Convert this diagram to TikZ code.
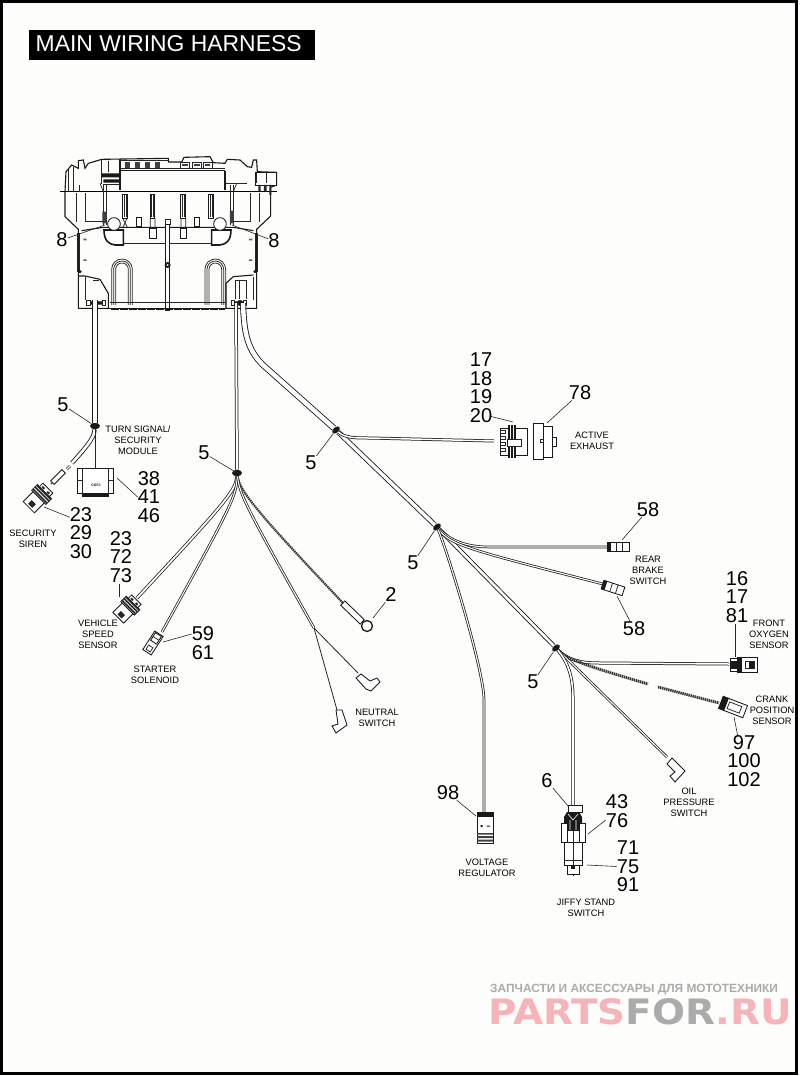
\documentclass[tikz,border=0pt]{standalone}
\usepackage{fontspec}
\usetikzlibrary{shapes.geometric}
\setmainfont{Liberation Sans}
\newfontfamily\stampfont{DejaVu Sans}
\definecolor{paper}{HTML}{FDFDFB}
\definecolor{stampred}{HTML}{F6B4B8}
\definecolor{stampgrey}{HTML}{ABABAB}
\tikzset{
  num/.style={font=\fontsize{20}{18.5}\selectfont,align=center,inner sep=0pt},
  tagtext/.style={font=\fontsize{9.3}{11}\selectfont,align=center,inner sep=0pt},
  leader/.style={line width=.6pt,black!85},
  wire/.style={line width=.75pt,black!90,double=white,double distance=1.1pt},
  thinwire/.style={line width=.9pt,black!85},
  sheath/.style={line width=.85pt,black!90,double=white,double distance=4.4pt},
  twist/.style={line width=2.8pt,black!80,dash pattern=on 1.4pt off .7pt},
  clampnode/.style={ellipse,fill=black!90,inner sep=0pt,minimum width=10pt,minimum height=6.5pt},
  part/.style={line width=.85pt,black!90,fill=white},
  body/.style={line width=1.1pt,black!90},
  fine/.style={line width=.75pt,black!85},
  plug/.pic={
    \draw[part] (-13,-8) rectangle (1,8);
    \draw[part] (1,-10) rectangle (9,10);
    \fill[black!85] (2,-10) rectangle (3.6,10) (4.8,-10) rectangle (6.4,10) (7.4,-10) rectangle (9,10);
    \draw[part] (9,-7) rectangle (14,7);
    \fill[black!85] (-11,-3) rectangle (-6,3);
    \fill[black!85] (10,-5) rectangle (12,-2) (10,2) rectangle (12,5);
  }
}
\begin{document}
\begin{tikzpicture}[x=1pt,y=-1pt]
\useasboundingbox (0,0) rectangle (800,1076);
\fill[paper] (0,0) rectangle (800,1076);
\draw[line width=3pt] (1.5,1.5) rectangle (796.5,1073.5);

\node[fill=black,anchor=west,minimum width=286pt,minimum height=30pt,inner sep=0pt] (title) at (29,45) {};
\node[text=white,font=\fontsize{22.9}{24}\selectfont,anchor=west,inner sep=0pt] (titletext) at (35.5,43.5) {MAIN WIRING HARNESS};

\begin{scope}[shift={(40,140)},x=.3333pt,y=-.3333pt]
  \draw[body] (75,155) -- (78,95) -- (95,75) -- (115,85) -- (115,62) -- (130,60) -- (135,85) -- (145,70) -- (185,58)
    -- (385,55) -- (385,66) -- (425,66) -- (432,52) -- (510,50) -- (520,68) -- (555,70) -- (562,58) -- (600,60)
    -- (622,80) -- (635,82) -- (640,60) -- (650,60) -- (652,95) -- (710,97) -- (710,135) -- (692,142)
    -- (692,228) -- (650,268) -- (650,505) -- (558,505) -- (558,430) -- (580,410) -- (640,405);
  \draw[body] (75,155) -- (75,230) -- (115,268) -- (115,505) -- (205,505) -- (205,460) -- (180,418) -- (135,408) -- (115,408);
  \draw[body] (205,505) -- (558,505);
  \draw[line width=1.3pt] (60,155) -- (710,155);
  \draw[body] (240,92) -- (555,92) (240,56) -- (240,150) (555,92) -- (555,150);
  \draw[fine] (240,62) -- (385,62) (240,86) -- (555,86) (190,132) -- (240,132) (555,130) -- (620,130);
  \foreach \xa in {255,285,315,345} \fill[black!75] (\xa,66) rectangle +(16,18);
  \foreach \xa in {422,458,490} {\draw[fine] (\xa,68) rectangle +(26,16); \fill[black!75] (\xa+5,72) rectangle +(16,5);}
  \fill[black!90] (185,100) rectangle (238,112) (190,118) rectangle (238,128);
  \draw[fine] (185,60) -- (185,132) (205,62) -- (205,95);
  \draw[part] (645,97) rectangle (708,135);
  \fill[black!85] (655,135) rectangle (662,155) (672,135) rectangle (680,155) (688,135) rectangle (694,165);
  \draw[fine] (650,100) -- (650,130) (680,97) -- (680,130);
  \foreach \xa in {190,200,570,580} \draw[fine] (\xa,135) -- (\xa,255);
  \fill[black!75] (187,215) rectangle (200,250) (570,212) rectangle (582,250);
  \draw[fine] (180,130) -- (190,155) (590,130) -- (580,155);
  \draw[fine] (110,160) -- (110,245) (135,160) -- (135,245) (118,135) -- (118,155) (85,85) -- (85,155) (100,80) -- (100,155);
  \draw[fine] (630,160) -- (630,245) (658,160) -- (658,245);
  \draw[fine] (135,245) -- (190,245) (630,245) -- (580,245);
  \draw[body] (125,272) -- (190,262) -- (580,262) -- (640,272);
  \draw[fine] (250,310) -- (520,310);
  \foreach \xa in {255,338,430,513} {
    \draw[part,line width=1pt] (\xa-7,163) rectangle (\xa+7,235);
    \draw[fine] (\xa-3,166) -- (\xa-3,232) (\xa+3,166) -- (\xa+3,232);
  }
  \draw[fine] (248,235) -- (262,262) (261,235) -- (249,262) (331,235) -- (331,262) (345,235) -- (345,262)
    (423,235) -- (423,262) (437,235) -- (437,262);
  \draw[part,line width=1.2pt] (329,265) rectangle (349,295);
  \draw[part,line width=1.2pt] (421,265) rectangle (440,295);
  \draw[part] (290,232) rectangle (305,260);
  \draw[part] (462,232) rectangle (478,260);
  \draw[line width=1.6pt,black!90,fill=white] (192,270) -- (250,270) -- (250,315) -- (225,315) .. controls (205,313) and (192,300) .. cycle;
  \draw[line width=1.6pt,black!90,fill=white] (573,270) -- (515,270) -- (515,315) -- (540,315) .. controls (560,313) and (573,300) .. cycle;
  \draw[part] (222,252) circle (19);
  \draw[part] (540,252) circle (19);
  \draw[fine,fill=white] (375,238) rectangle (390,252);
  \draw[part] (377,252) rectangle (388,510);
  \fill[black!90] (383,375) circle (9);
  \fill[white] (383,375) circle (3);
  \foreach \xa in {215,495} {
    \draw[fine] (\xa,495) -- (\xa,388) arc (180:360:31) -- (\xa+62,495);
    \draw[fine] (\xa+6,495) -- (\xa+6,388) arc (180:360:25) -- (\xa+56,495);
    \draw[fine] (\xa+12,495) -- (\xa+12,388) arc (180:360:19) -- (\xa+50,495);
  }
  \draw[fine] (210,488) -- (555,488);
  \draw[line width=1.8pt,black!90,dash pattern=on 8pt off 1pt] (212,506) -- (555,506);
  \draw[fine] (118,280) -- (118,395) (112,280) -- (112,395) (652,280) -- (652,395) (645,280) -- (645,395);
  \fill[black!90] (120,395) circle (5) (645,395) circle (5);
  \foreach \xa in {135,632} {\fill[black!60] (\xa-5,296) rectangle +(10,5) (\xa-5,358) rectangle +(10,5);}
  \draw[fine] (135,412) -- (135,480) (640,410) -- (640,480);
  \draw[fine] (158,420) -- (176,420);
  \draw[fine] (585,420) -- (620,420) (585,420) -- (585,478) (620,420) -- (620,478) (597,420) -- (597,478);
  \draw[fine] (140,480) rectangle (150,497) (186,480) rectangle (196,497) (575,480) rectangle (584,497) (611,480) rectangle (620,497);
  \fill[black!90] (152,484) rectangle (186,494) (584,484) rectangle (611,494);
  \fill[black!90] (167,489) circle (9) (600,489) circle (9);
\end{scope}

\node[clampnode] (clipA) at (95,426) {};
\node[clampnode] (clipB) at (237,473) {};
\node[clampnode,rotate=40,minimum width=9pt,minimum height=5.5pt] (clipC) at (336,430) {};
\node[clampnode,rotate=40,minimum width=9pt,minimum height=5.5pt] (clipD) at (437,527) {};
\node[clampnode,rotate=40,minimum width=9pt,minimum height=5.5pt] (clipE) at (556,648) {};
\coordinate (topL) at (95,300);
\coordinate (topW) at (236,303);
\coordinate (topS) at (243,303);

\coordinate (sirenEnd) at (51,484);
\coordinate (moduleEnd) at (95,468);
\coordinate (speedEnd) at (137,598);
\coordinate (starterEnd) at (162,632);
\coordinate (ringEnd) at (343,603);
\coordinate (fork) at (314,628);
\coordinate (neutralA) at (358,673);
\coordinate (neutralB) at (337,710);
\coordinate (exhaustEnd) at (494,441);
\coordinate (brakeA) at (607,547);
\coordinate (brakeB) at (603,584);
\coordinate (regEnd) at (484,812);
\coordinate (oxyEnd) at (729,664);
\coordinate (crankA) at (648,684);
\coordinate (crankB) at (658,687);
\coordinate (crankEnd) at (719,703);
\coordinate (oilEnd) at (667,757);
\coordinate (jiffyEnd) at (573,805);

\draw[wire,double distance=4.4pt] (topL) -- (clipA);
\draw[sheath,double distance=2.6pt] (clipA) .. controls (94,436) and (92,441) .. (72,463);
\draw[wire] (70,466) -- (67,469);
\draw[line width=.8pt,black!90,fill=white,rotate around={45:(58,477)}] (50,474.5) rectangle (66,479.5);
\draw[thinwire] (53,482) -- (sirenEnd);
\draw[thinwire] (clipA) -- (moduleEnd);

\draw[wire,double distance=2pt] (topW) -- (clipB);
\draw[sheath] (topS) .. controls (244,335) and (248,350) .. (263,365) -- (clipC);
\draw[sheath,double distance=3.4pt] (clipC) -- (clipD);
\draw[sheath,double distance=2.6pt] (clipD) -- (clipE);

\draw[wire,double distance=1.8pt] (clipB) .. controls (236,490) and (228,500) .. (speedEnd);
\draw[wire] (clipB) .. controls (237,495) and (232,505) .. (starterEnd);
\draw[twist,line width=2.2pt] (clipB) .. controls (240,490) and (250,505) .. (ringEnd);
\draw[wire] (clipB) .. controls (240,495) and (245,505) .. (fork);
\draw[leader,line width=.8pt] (fork) -- (neutralA);
\draw[leader,line width=.8pt] (fork) -- (neutralB);

\draw[wire,double distance=1.5pt] (clipC) .. controls (345,438) and (355,438) .. (370,438) -- (exhaustEnd);
\draw[wire] (clipD) .. controls (450,540) and (465,547) .. (490,547) -- (brakeA);
\draw[wire] (clipD) .. controls (450,545) and (470,550) .. (brakeB);
\draw[wire] (clipD) .. controls (447,550) and (484,670) .. (484,700) -- (regEnd);
\draw[wire,double distance=1.5pt] (clipE) .. controls (568,660) and (580,663) .. (600,663) -- (oxyEnd);
\draw[twist] (clipE) .. controls (565,658) and (580,664) .. (crankA);
\draw[twist] (crankB) -- (crankEnd);
\draw[wire] (clipE) -- (oilEnd);
\draw[wire,double distance=1.6pt] (clipE) .. controls (570,665) and (573,680) .. (573,700) -- (jiffyEnd);

\draw[part] (77,468) rectangle (113,493);
\draw[fine] (82,468) -- (82,493) (108,468) -- (108,493) (77,480) -- (82,480) (108,480) -- (113,480);
\fill[black!90] (82,493) rectangle (109,497);
\node[font=\bfseries\fontsize{3.5}{4}\selectfont,inner sep=0pt] (modtag) at (96,485) {CGFJ};
\pic[rotate=45] at (38,498) {plug};
\pic[rotate=45,scale=.95] at (127,609) {plug};

\begin{scope}[shift={(153,643)},rotate=57]
  \draw[part] (-11,-5) rectangle (11,5);
  \draw[part] (1,-3.5) rectangle (10,3.5);
  \draw[fine] (5.5,-3.5) -- (5.5,3.5);
  \draw[fine] (-9,-2.5) rectangle (-4,2.5);
\end{scope}

\draw[part,rotate around={-44:(352.5,612.5)}] (339,609.5) rectangle (366,615.5);
\draw[line width=1.3pt,black!90,fill=white] (367,626) circle (5.5pt);
\begin{scope}[shift={(368,682)}]
  \draw[part] (-12,-4) -- (-7,-8) -- (2,-1) -- (9,-4) -- (12,0) -- (3,9) -- (-2,7) -- cycle;
\end{scope}
\begin{scope}[shift={(339,722)}]
  \draw[part] (-3,-12) -- (3,-12) -- (8,3) -- (-3,11) -- (-7,4) -- (-1,2) -- cycle;
\end{scope}
\begin{scope}[shift={(675,770)}]
  \draw[part] (-8,-6) -- (-3,-12) -- (10,1) -- (0,12) -- (-5,6) -- (0,2) -- cycle;
\end{scope}

\begin{scope}[shift={(500,425)}]
  \draw[part] (0,3) rectangle (27,30);
  \fill[black!90] (8,0) rectangle (16,33);
  \draw[white,line width=.5pt] (10.5,0) -- (10.5,33) (13.5,0) -- (13.5,33);
  \draw[fine,fill=white] (7,14) rectangle (21,21);
  \foreach \ya in {5,11,17,23} \draw[fine] (0,\ya) rectangle +(5,3);
\end{scope}
\draw[part] (533,423) rectangle (543,459);
\draw[part] (543,426) -- (552,426) -- (552,457) -- (543,457) -- cycle;
\draw[part] (552,437) rectangle (556,446);
\draw[fine] (540,439) rectangle (543,442);

\begin{scope}[shift={(607,542)}]
  \draw[part] (0,0) rectangle (22,9);
  \fill[black!90] (0,0) rectangle (3.5,9);
  \draw[fine] (9,0) -- (9,9) (15,0) -- (15,9);
\end{scope}
\begin{scope}[shift={(613,588)},rotate=-18]
  \draw[part] (-11,-4.5) rectangle (11,4.5);
  \fill[black!90] (-11,-4.5) rectangle (-7.5,4.5);
  \draw[fine] (-2,-4.5) -- (-2,4.5) (4,-4.5) -- (4,4.5);
\end{scope}

\begin{scope}[shift={(477,812)}]
  \draw[part] (0,0) rectangle (16,31);
  \fill[black!90] (0,0) rectangle (16,5);
  \fill[black!75] (0,24) rectangle (16,26) (0,27.5) rectangle (16,29.5) (0,21) rectangle (16,22.5);
  \fill[black!90] (3.5,13) rectangle (5.5,15) (9.5,13.5) rectangle (13,14.5);
\end{scope}

\begin{scope}[shift={(730,657.5)}]
  \draw[part] (0,1) rectangle (7,14);
  \fill[black!90] (0,3) rectangle (7,11);
  \draw[part] (7,0) rectangle (27,15);
  \fill[black!90] (7,0) rectangle (12,15);
  \draw[fine] (15,4) rectangle (24,11);
  \fill[black!90] (19,4) rectangle (24,11);
\end{scope}
\begin{scope}[shift={(733,707)},rotate=-21]
  \draw[part] (-13,-6.5) rectangle (13,6.5);
  \fill[black!90] (-13,-6.5) rectangle (-7,6.5);
  \draw[fine] (-5,-3.5) rectangle (8,3.5);
\end{scope}

\begin{scope}[shift={(573,812)}]
  \draw[part] (-5,-7) rectangle (9,0);
  \fill[black!90] (-9,5) -- (-6,0) -- (6,0) -- (9,5) -- (9,20) -- (-9,20) -- cycle;
  \draw[white,line width=.6pt] (-5,2) -- (0,8) -- (5,2) (-3,8) -- (-3,19) (3,8) -- (3,19);
  \draw[part] (-12,11) rectangle (-6,30);
  \draw[part] (6,11) rectangle (12,30);
  \draw[part] (-6,18) rectangle (6,30);
  \draw[fine] (0,18) -- (0,64);
  \draw[part] (-9,30) rectangle (9,53);
  \draw[fine] (0,30) -- (0,53) (-9,48) -- (9,48);
  \draw[part] (-6,53) rectangle (6,62);
  \fill[black!90] (-2,53) rectangle (2,57);
\end{scope}

\node[num] (n5a) at (63,405) {5};
\node[tagtext] (tagModule) at (138,440) {TURN SIGNAL/\\SECURITY\\MODULE};
\node[num] (n38) at (149,497) {38\\41\\46};
\node[num] (n23a) at (81,533) {23\\29\\30};
\node[tagtext] (tagSiren) at (33,539) {SECURITY\\SIREN};
\node[num] (n23b) at (121,557) {23\\72\\73};
\node[tagtext] (tagSpeed) at (98,634) {VEHICLE\\SPEED\\SENSOR};
\node[num] (n59) at (203,643) {59\\61};
\node[tagtext] (tagStarter) at (155,674.5) {STARTER\\SOLENOID};
\node[num] (n5b) at (204,453) {5};
\node[num] (n2) at (391,595) {2};
\node[tagtext] (tagNeutral) at (377,717.5) {NEUTRAL\\SWITCH};
\node[num] (n8a) at (62,240) {8};
\node[num] (n8b) at (274,241) {8};
\node[num] (n5c) at (311,463) {5};
\node[num] (n17a) at (481,387.5) {17\\18\\19\\20};
\node[num] (n78) at (580,393) {78};
\node[tagtext] (tagExhaust) at (592,440.5) {ACTIVE\\EXHAUST};
\node[num] (n5d) at (413,563) {5};
\node[num] (n58a) at (648,510) {58};
\node[tagtext] (tagBrake) at (648,570) {REAR\\BRAKE\\SWITCH};
\node[num] (n58b) at (634,629) {58};
\node[num] (n16) at (737,597) {16\\17\\81};
\node[tagtext] (tagOxy) at (769,634) {FRONT\\OXYGEN\\SENSOR};
\node[tagtext] (tagCrank) at (772,710) {CRANK\\POSITION\\SENSOR};
\node[num] (n97) at (744,761) {97\\100\\102};
\node[num] (n5e) at (533,682) {5};
\node[tagtext] (tagOil) at (689,802) {OIL\\PRESSURE\\SWITCH};
\node[num] (n98) at (448,793) {98};
\node[tagtext] (tagReg) at (487,867.5) {VOLTAGE\\REGULATOR};
\node[num] (n6) at (547,781) {6};
\node[num] (n43) at (617,811) {43\\76};
\node[num] (n71) at (628,866.5) {71\\75\\91};
\node[tagtext] (tagJiffy) at (586,907.5) {JIFFY STAND\\SWITCH};

\coordinate (at8a) at (105,225);
\coordinate (at8b) at (232,225);
\coordinate (atModule) at (117,478);
\coordinate (atSiren) at (44,507);
\coordinate (atSpeed) at (119,597);
\coordinate (atStarter) at (163,642);
\coordinate (atRing) at (373,618);
\coordinate (atExhaust) at (513,422);
\coordinate (atCover) at (547,423);
\coordinate (atBrakeA) at (622,540);
\coordinate (atBrakeB) at (617,596);
\coordinate (atOxy) at (735,657);
\coordinate (atCrank) at (734,717);
\coordinate (atReg) at (476,816);
\coordinate (atClip) at (568,806);
\coordinate (atBody) at (588,834);
\coordinate (atStem) at (587,865);

\draw[leader] (n5a) -- (clipA);
\draw[leader] (n5b) -- (clipB);
\draw[leader] (n5c) -- (clipC);
\draw[leader] (n5d) -- (clipD);
\draw[leader] (n5e) -- (clipE);
\draw[leader] (n8a) -- (at8a);
\draw[leader] (n8b) -- (at8b);
\draw[leader] (n38.west) -- (atModule);
\draw[leader] ([yshift=-10pt]n23a.north west) -- (atSiren);
\draw[leader] (n23b.south) ++(-2,1) -- (atSpeed);
\draw[leader] ([yshift=9pt]n59.west) -- (atStarter);
\draw[leader] (n2) -- (atRing);
\draw[leader] ([xshift=10pt,yshift=6pt]n17a.south) -- (atExhaust);
\draw[leader] (n78) -- (atCover);
\draw[leader] (n58a) -- (atBrakeA);
\draw[leader] (n58b) -- (atBrakeB);
\draw[leader] (n16.south) ++(-2,1) -- (atOxy);
\draw[leader] (n97.north) ++(-6,2) -- (atCrank);
\draw[leader] (n98) -- (atReg);
\draw[leader] (n6) -- (atClip);
\draw[leader] ([yshift=-9pt]n43.west) -- (atBody);
\draw[leader] (n71.west) -- (atStem);

\node[text=stampgrey,font=\bfseries\fontsize{11.9}{14}\selectfont,anchor=west,inner sep=0pt] (stampline) at (490,990) {ЗАПЧАСТИ И АКСЕССУАРЫ ДЛЯ МОТОТЕХНИКИ};
\node[font=\stampfont\bfseries\fontsize{35}{36}\selectfont,anchor=west,inner sep=0pt,xscale=1.11,transform shape] (stampname) at (488,1012) {\textcolor{stampred}{PARTS}\textcolor{stampgrey}{FOR}\textcolor{stampred}{.RU}};
\end{tikzpicture}
\end{document}
